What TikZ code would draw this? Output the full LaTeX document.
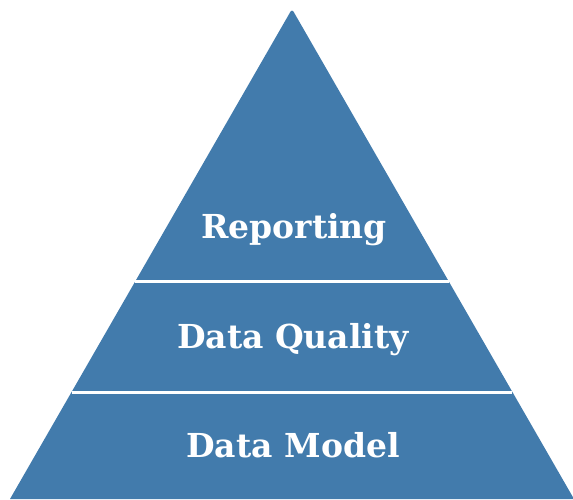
\documentclass[tikz,border=0pt]{standalone}
\usepackage{fontspec}
\setmainfont{DejaVu Serif}
\usetikzlibrary{calc,positioning}
\definecolor{layerblue}{RGB}{66,123,172}

\begin{document}
\begin{tikzpicture}[x=1pt,y=-1pt,
    layer/.style={fill=layerblue, draw=none},
    gap/.style={draw=white, line width=3pt},
    label/.style={text=white, font=\bfseries\fontsize{33}{40}\selectfont, inner sep=0pt, anchor=base}
]

%%%

    \useasboundingbox (0,0) rectangle (573,499);
    \clip (0,0) rectangle (573,499);

    \coordinate (top) at (292,9);
    \coordinate (left) at (10,499);
    \coordinate (right) at (574,499);

    \path[layer] (left) [rounded corners=3pt] -- (top) [sharp corners] -- (right) -- cycle;

    % dividing lines between the layers
    \draw[gap] ($(top)!{(281-9)/490}!(left)$) coordinate (a1) -- ($(top)!{(281-9)/490}!(right)$) coordinate (a2);
    \draw[gap] ($(top)!{(392-9)/490}!(left)$) coordinate (b1) -- ($(top)!{(392-9)/490}!(right)$) coordinate (b2);

    \node[label] (reporting) at (294,238) {Reporting};
    \node[label] (quality) at (293,348) {Data Quality};
    \node[label] (model) at (293,457) {Data Model};

\end{tikzpicture}
\end{document}
